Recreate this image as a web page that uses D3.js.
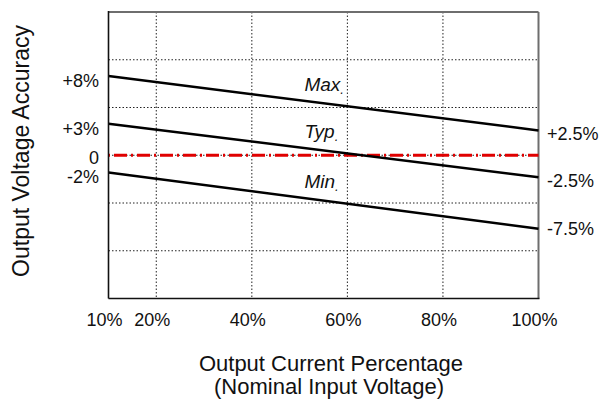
<!DOCTYPE html>
<html>
<head>
<meta charset="utf-8">
<script src="https://cdn.jsdelivr.net/npm/d3@7"></script>
<style>
  html, body { margin: 0; padding: 0; background: #fff; }
  svg { display: block; font-family: "Liberation Sans", Arial, sans-serif; }
</style>
</head>
<body>
<svg id="chart" width="600" height="403"></svg>
<script>
// ---- data ----
const xRange = [10, 100];                       // output current %
const yRange = [-15, 15];                       // output voltage accuracy %
const xTickValues = [10, 20, 40, 60, 80, 100];
const xTickLabels = ["10%", "20%", "40%", "60%", "80%", "100%"];
const xGridValues = [20, 40, 60, 80];
const yGridValues = [-10, -5, 0, 5, 10];
const seriesNames = ["Max", "Typ", "Min"];
const seriesX = [10, 100];
const maxValues = [8.3, 2.6];
const typValues = [3.3, -2.3];
const minValues = [-1.8, -7.7];
const nominalValues = [0, 0];
const leftLabels = ["+8%", "+3%", "0", "-2%"];
const leftLabelValues = [8, 3, 0, -2];
const rightLabels = ["+2.5%", "-2.5%", "-7.5%"];
const rightLabelValues = [2.5, -2.5, -7.5];
const xTitle = ["Output Current Percentage", "(Nominal Input Voltage)"];
const yTitle = "Output Voltage Accuracy";

// ---- layout ----
const svg = d3.select("#chart");
const L = 108.5, R = 538.5, T = 12, B = 298.5;
const x = d3.scaleLinear().domain(xRange).range([L, R]);
const y = d3.scaleLinear().domain(yRange).range([B, T]);

// grid
const g = svg.append("g");
g.selectAll(".vg").data(xGridValues).enter().append("line")
  .attr("x1", d => x(d)).attr("x2", d => x(d)).attr("y1", T).attr("y2", B)
  .attr("stroke", "#222").attr("stroke-width", 1).attr("stroke-dasharray", "1.5,2");
g.selectAll(".hg").data(yGridValues).enter().append("line")
  .attr("x1", L).attr("x2", R).attr("y1", d => y(d)).attr("y2", d => y(d))
  .attr("stroke", "#222").attr("stroke-width", 1).attr("stroke-dasharray", "1.5,2");

// frame: top & right grey, left & bottom black
svg.append("line").attr("x1", L).attr("x2", R).attr("y1", T).attr("y2", T)
  .attr("stroke", "#6e6e6e").attr("stroke-width", 2);
svg.append("line").attr("x1", R).attr("x2", R).attr("y1", T).attr("y2", B)
  .attr("stroke", "#6e6e6e").attr("stroke-width", 2);

// nominal red dash-dot line
const line = d3.line().x((d, i) => x(seriesX[i])).y(d => y(d));
svg.append("path").datum(nominalValues).attr("d", line)
  .attr("fill", "none").attr("stroke", "#e00000").attr("stroke-width", 3)
  .attr("stroke-dasharray", "13,4,2,4").attr("stroke-dashoffset", 17.5);

// series lines
const allSeries = [maxValues, typValues, minValues];
svg.selectAll(".series").data(allSeries).enter().append("path")
  .attr("d", line).attr("fill", "none").attr("stroke", "#000").attr("stroke-width", 2.5);

svg.append("line").attr("x1", L).attr("x2", L).attr("y1", T - 1).attr("y2", B)
  .attr("stroke", "#111").attr("stroke-width", 1.6);
svg.append("line").attr("x1", L).attr("x2", R + 1).attr("y1", B).attr("y2", B)
  .attr("stroke", "#111").attr("stroke-width", 1.6);

// series labels (italic, with small subscript period)
const labelX = 51;
allSeries.forEach((s, i) => {
  const t = (labelX - seriesX[0]) / (seriesX[1] - seriesX[0]);
  const v = s[0] + (s[1] - s[0]) * t;
  const txt = svg.append("text")
    .attr("x", x(labelX)).attr("y", y(v) - 10)
    .attr("font-size", 19).attr("font-style", "italic").attr("fill", "#111")
    .text(seriesNames[i]);
  txt.append("tspan").attr("font-size", 13).attr("dy", 3).text(".");
});

// left labels
svg.selectAll(".ll").data(leftLabels).enter().append("text")
  .attr("x", 99).attr("y", (d, i) => y(leftLabelValues[i]) + 2)
  .attr("dy", "0.35em").attr("text-anchor", "end")
  .attr("font-size", 18).attr("fill", "#111").text(d => d);

// right labels
svg.selectAll(".rl").data(rightLabels).enter().append("text")
  .attr("x", 547).attr("y", (d, i) => y(rightLabelValues[i]) + 2)
  .attr("dy", "0.35em").attr("text-anchor", "start")
  .attr("font-size", 18).attr("fill", "#111").text(d => d);

// x tick labels
svg.selectAll(".xl").data(xTickValues).enter().append("text")
  .attr("x", d => x(d) - 4).attr("y", 326)
  .attr("text-anchor", "middle").attr("font-size", 18).attr("fill", "#111")
  .text((d, i) => xTickLabels[i]);

// axis titles
svg.append("text").attr("x", 331).attr("y", 371).attr("text-anchor", "middle")
  .attr("font-size", 22).attr("fill", "#111").text(xTitle[0]);
svg.append("text").attr("x", 329).attr("y", 394).attr("text-anchor", "middle")
  .attr("font-size", 22).attr("fill", "#111").text(xTitle[1]);
svg.append("text").attr("transform", "translate(29,151) rotate(-90)")
  .attr("text-anchor", "middle").attr("font-size", 23).attr("fill", "#111").text(yTitle);
</script>
</body>
</html>
